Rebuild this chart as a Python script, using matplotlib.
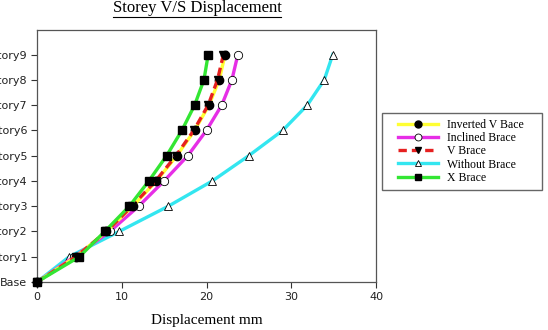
import matplotlib.pyplot as plt
from matplotlib.lines import Line2D
from matplotlib.patches import Rectangle

# storeys, bottom to top
storeys = ["Base", "Story1", "Story2", "Story3", "Story4", "Story5",
           "Story6", "Story7", "Story8", "Story9"]

# displacement (mm) at each storey
inverted_v = [0, 4.6, 8.2, 11.3, 14.1, 16.5, 18.6, 20.3, 21.5, 22.2]
inclined = [0, 4.4, 8.6, 12.0, 15.0, 17.8, 20.0, 21.8, 23.0, 23.7]
v_brace = [0, 4.6, 8.2, 11.2, 14.0, 16.4, 18.5, 20.2, 21.3, 22.0]
without = [0, 3.8, 9.7, 15.5, 20.7, 25.0, 29.0, 31.9, 33.9, 34.9]
x_brace = [0, 5.0, 8.0, 10.9, 13.2, 15.3, 17.1, 18.6, 19.7, 20.2]

levels = list(range(len(storeys)))

W, H = 548, 330
fig = plt.figure(figsize=(W / 100, H / 100), dpi=100)
ax = fig.add_axes([37 / W, 48 / H, 339 / W, 252 / H])

lw = 2.4
ms = 6
ax.plot(without, levels, color="#33e6f0", lw=lw, marker="^", ms=ms,
        mfc="white", mec="black", mew=0.6, clip_on=False, zorder=3)
ax.plot(inclined, levels, color="#e62ee6", lw=lw, marker="o", ms=ms,
        mfc="white", mec="black", mew=0.6, clip_on=False, zorder=3)
ax.plot(inverted_v, levels, color="#ffff33", lw=lw, marker="o", ms=ms,
        mfc="black", mec="black", clip_on=False, zorder=4)
ax.plot(v_brace, levels, color="#e62020", lw=lw, ls=(0, (2.5, 1.5)),
        marker="v", ms=ms, mfc="black", mec="black", clip_on=False, zorder=5)
ax.plot(x_brace, levels, color="#33e633", lw=lw, marker="s", ms=ms,
        mfc="black", mec="black", clip_on=False, zorder=6)

ax.set_xlim(0, 40)
ax.set_ylim(0, 9.97)
ax.set_xticks([0, 10, 20, 30, 40])
ax.set_yticks(levels)
ax.set_yticklabels(storeys)
ax.tick_params(labelsize=8, length=4, width=0.8, colors="#333333",
               labelcolor="#222222")
ax.tick_params(axis="y", pad=3)
for s in ax.spines.values():
    s.set_color("#555555")
    s.set_linewidth(0.9)

ax.set_xlabel("Displacement mm", family="Liberation Serif", fontsize=11,
              labelpad=8)

# underlined title
title = fig.text(197 / W, 1 - 8 / H, "Storey V/S Displacement",
                 family="Liberation Serif", fontsize=12,
                 ha="center", va="center")
fig.canvas.draw()
bb = title.get_window_extent(fig.canvas.get_renderer())
fig.add_artist(Line2D([bb.x0 / W, bb.x1 / W],
                      [(bb.y0 - 1) / H, (bb.y0 - 1) / H],
                      color="black", lw=0.8))

# legend box drawn separately so its padding matches
fig.add_artist(Rectangle((382 / W, 1 - 190 / H), 160 / W, 77 / H,
                         transform=fig.transFigure, fill=False,
                         edgecolor="#666666", lw=1.0))

lms = 5
handles = [
    Line2D([], [], color="#ffff33", lw=lw, marker="o", ms=lms, mfc="black", mec="black"),
    Line2D([], [], color="#e62ee6", lw=lw, marker="o", ms=lms, mfc="white", mec="black", mew=0.6),
    Line2D([], [], color="#e62020", lw=lw, ls=(0, (2.5, 1.5)), marker="v", ms=lms, mfc="black", mec="black"),
    Line2D([], [], color="#33e6f0", lw=lw, marker="^", ms=lms, mfc="white", mec="black", mew=0.6),
    Line2D([], [], color="#33e633", lw=lw, marker="s", ms=lms, mfc="black", mec="black"),
]
labels = ["Inverted V Bace", "Inclined Brace", "V Brace", "Without Brace", "X Brace"]
leg = fig.legend(handles, labels, loc="upper left",
                 bbox_to_anchor=(398 / W, 1 - 119 / H),
                 prop={"family": "Liberation Serif", "size": 8.5},
                 frameon=False, handlelength=3.4, handletextpad=0.75,
                 labelspacing=0.1, borderpad=0, borderaxespad=0)

fig.savefig("out.png", dpi=100)
